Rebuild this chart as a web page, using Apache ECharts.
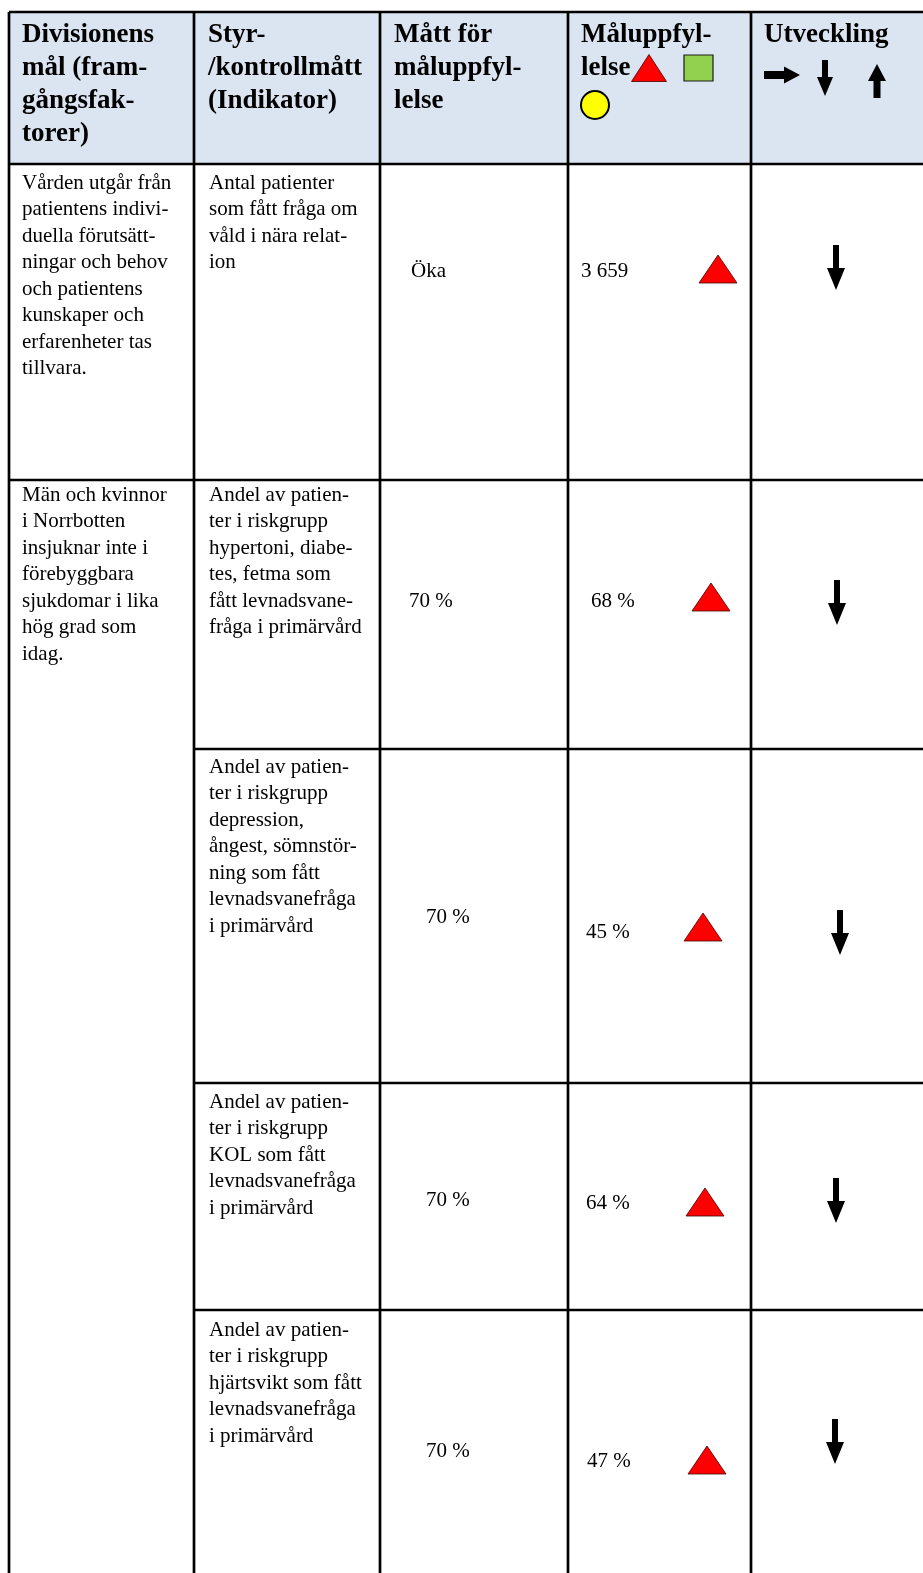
<!DOCTYPE html>
<html>
<head>
<meta charset="utf-8">
<script src="https://cdn.jsdelivr.net/npm/echarts@6/dist/echarts.min.js"></script>
<style>
  html, body { margin: 0; padding: 0; background: #fff; }
  #main { width: 923px; height: 1573px; }
</style>
</head>
<body>
<div id="main"></div>
<script>
// tabellens innehåll
const headers = [
  'Divisionens\nmål (fram-\ngångsfak-\ntorer)',
  'Styr-\n/kontrollmått\n(Indikator)',
  'Mått för\nmåluppfyl-\nlelse',
  'Måluppfyl-\nlelse',
  'Utveckling'
]
const goals = [
  'Vården utgår från\npatientens indivi-\nduella förutsätt-\nningar och behov\noch patientens\nkunskaper och\nerfarenheter tas\ntillvara.',
  'Män och kvinnor\ni Norrbotten\ninsjuknar inte i\nförebyggbara\nsjukdomar i lika\nhög grad som\nidag.'
]
const indicators = [
  'Antal patienter\nsom fått fråga om\nvåld i nära relat-\nion',
  'Andel av patien-\nter i riskgrupp\nhypertoni, diabe-\ntes, fetma som\nfått levnadsvane-\nfråga i primärvård',
  'Andel av patien-\nter i riskgrupp\ndepression,\nångest, sömnstör-\nning som fått\nlevnadsvanefråga\ni primärvård',
  'Andel av patien-\nter i riskgrupp\nKOL som fått\nlevnadsvanefråga\ni primärvård',
  'Andel av patien-\nter i riskgrupp\nhjärtsvikt som fått\nlevnadsvanefråga\ni primärvård'
]
const targets = ['Öka', '70 %', '70 %', '70 %', '70 %']
const results = ['3 659', '68 %', '45 %', '64 %', '47 %']
const status = ['red', 'red', 'red', 'red', 'red']
const trends = ['down', 'down', 'down', 'down', 'down']

// layout
const colX = [9, 194, 380, 568, 751, 930]
const rowY = [12, 164, 480, 749, 1083, 1310, 1573]
const goalRow = [0, 1]
const textY = [183, 495, 767, 1102, 1330]
const targetPos = [[411, 271], [409, 601], [426, 917], [426, 1200], [426, 1451]]
const resultPos = [[581, 271], [591, 601], [586, 932], [586, 1203], [587, 1461]]
const markerPos = [[718, 269], [711, 597], [703, 927], [705, 1202], [707, 1460]]
const arrowPos = [[836, 245], [837, 580], [840, 910], [836, 1178], [835, 1419]]

const FONT = "'Liberation Serif', 'Times New Roman', serif"
const LINE = '#000'
const STATUS_COLOR = { red: '#ff0000', green: '#92d050', yellow: '#ffff00' }
const BODY = 21
const BODY_LH = 26.5

function txt (x, y, text, size, lh, bold) {
  return {
    type: 'text', x: x, y: y, z: 10,
    style: {
      text: text, fill: '#000', fontSize: size, fontFamily: FONT,
      fontWeight: bold ? 'bold' : 'normal', lineHeight: lh,
      verticalAlign: 'top', align: 'left'
    }
  }
}

function line (x1, y1, x2, y2) {
  return {
    type: 'line', z: 5,
    shape: { x1: x1, y1: y1, x2: x2, y2: y2 },
    style: { stroke: LINE, lineWidth: 2.7 }
  }
}

function triangle (cx, cy, w, h) {
  return {
    type: 'polygon', z: 8,
    shape: { points: [[cx, cy - h / 2], [cx + w / 2, cy + h / 2], [cx - w / 2, cy + h / 2]] },
    style: { fill: STATUS_COLOR.red, stroke: '#400', lineWidth: 0.8 }
  }
}

// pil: dir = down | up | right
function arrow (cx, cy, len, headW, shaftW, headLen, dir) {
  const s = shaftW / 2, hw = headW / 2, half = len / 2
  let pts = [
    [-s, -half], [s, -half], [s, half - headLen], [hw, half - headLen],
    [0, half], [-hw, half - headLen], [-s, half - headLen]
  ]
  if (dir === 'up') pts = pts.map(p => [p[0], -p[1]])
  if (dir === 'right') pts = pts.map(p => [p[1], p[0]])
  return {
    type: 'polygon', z: 8,
    shape: { points: pts.map(p => [cx + p[0], cy + p[1]]) },
    style: { fill: '#000' }
  }
}

const els = []
const right = 923

// header bakgrund
els.push({
  type: 'rect', z: 1,
  shape: { x: colX[0], y: rowY[0], width: right - colX[0] + 10, height: rowY[1] - rowY[0] },
  style: { fill: '#dbe5f1' }
})

// rubriker
const headerX = [22, 208, 394, 581, 764]
headers.forEach((h, i) => els.push(txt(headerX[i], 19, h, 27, 33, true)))

// symboler i rubriken
els.push(triangle(649, 68, 35, 27))
els.push({
  type: 'rect', z: 8,
  shape: { x: 684, y: 55, width: 29, height: 26 },
  style: { fill: STATUS_COLOR.green, stroke: '#1a1a1a', lineWidth: 1.2 }
})
els.push({
  type: 'circle', z: 8,
  shape: { cx: 595, cy: 105, r: 14 },
  style: { fill: STATUS_COLOR.yellow, stroke: '#000', lineWidth: 2 }
})
els.push(arrow(782, 75, 36, 17, 8, 16, 'right'))
els.push(arrow(825, 78, 36, 16, 6, 19, 'down'))
els.push(arrow(877, 81, 34, 18, 7, 17, 'up'))

// mål (kolumn 1)
goals.forEach((g, i) => els.push(txt(22, textY[goalRow[i]] - BODY_LH / 2, g, BODY, BODY_LH)))

// rader
indicators.forEach((ind, i) => {
  els.push(txt(209, textY[i] - BODY_LH / 2, ind, BODY, BODY_LH))
  els.push(txt(targetPos[i][0], targetPos[i][1] - BODY_LH / 2, targets[i], BODY, BODY_LH))
  els.push(txt(resultPos[i][0], resultPos[i][1] - BODY_LH / 2, results[i], BODY, BODY_LH))
  if (status[i] === 'red') els.push(triangle(markerPos[i][0], markerPos[i][1], 38, 28))
  const a = arrowPos[i]
  els.push(arrow(a[0], a[1] + 22.5, 45, 18, 6, 22, trends[i]))
})

// linjer
els.push(line(colX[0], rowY[0], right + 10, rowY[0]))
els.push(line(colX[0], rowY[1], right + 10, rowY[1]))
els.push(line(colX[0], rowY[2], right + 10, rowY[2]))
for (let r = 3; r < rowY.length - 1; r++) {
  els.push(line(colX[1], rowY[r], right + 10, rowY[r]))
}
for (let c = 0; c < colX.length - 1; c++) {
  els.push(line(colX[c], rowY[0], colX[c], rowY[rowY.length - 1]))
}

const chart = echarts.init(document.getElementById('main'))
chart.setOption({
  animation: false,
  graphic: { elements: els }
})
</script>
</body>
</html>
